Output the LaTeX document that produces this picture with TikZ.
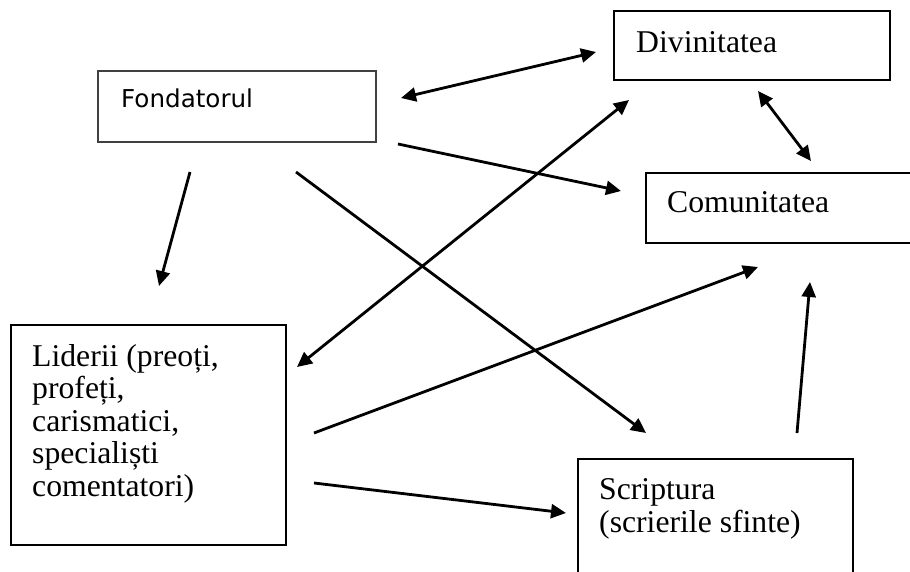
\documentclass[tikz,border=0pt]{standalone}
\usepackage{fontspec}
\setmainfont{Liberation Serif}
\newfontfamily\fondfont{DejaVu Sans}
\usetikzlibrary{arrows.meta}
\tikzset{
  box/.style={draw, line width=1.8pt},
  lbl/.style={inner sep=0pt, font=\fontsize{31.7}{32.5}\selectfont},
  link/.style={line width=2.8pt, -{Triangle[length=15pt,width=14pt]}},
  duplex/.style={line width=2.8pt, {Triangle[length=15pt,width=14pt]}-{Triangle[length=15pt,width=14pt]}}
}
\begin{document}
\begin{tikzpicture}[x=1pt, y=-1pt]
\useasboundingbox (0,0) rectangle (910,572);

% Draw the boxes and insert the texts
\draw[box, draw=black!75, line width=2.2pt] (98,71) rectangle (376,142);
\node[anchor=base west, inner sep=0pt, font=\fondfont\fontsize{24.6}{28}\selectfont] (fond) at (121,108) {Fondatorul};
\draw[box] (614,11) rectangle (890,80);
\node[lbl, anchor=base west] (div) at (636,53) {Divinitatea};
\draw[box] (646,173) rectangle (916,243);
\node[lbl, anchor=base west] (com) at (667,213) {Comunitatea};
\draw[box] (11,325) rectangle (286,545);
\node[lbl, anchor=north west, align=left] (lid) at (32,344) {Liderii (preoți,\\profeți,\\carismatici,\\specialiști\\comentatori)};
\draw[box] (578,459) rectangle (853,580);
\node[lbl, anchor=north west, align=left] (scr) at (599,478.6) {Scriptura\\(scrierile sfinte)};

% Arrow ends
\coordinate (fond-div) at (401,98);
\coordinate (div-fond) at (596,52);
\coordinate (fond-com) at (398,144);
\coordinate (com-fond) at (621,191);
\coordinate (fond-lid) at (190,172);
\coordinate (lid-fond) at (159,286);
\coordinate (fond-scr) at (296,172);
\coordinate (scr-fond) at (646,433);
\coordinate (lid-div) at (297,367);
\coordinate (div-lid) at (629,100);
\coordinate (lid-com) at (314,433);
\coordinate (com-lid) at (758,267);
\coordinate (lid-scr) at (314,483);
\coordinate (scr-lid) at (566,513);
\coordinate (scr-com) at (797,433);
\coordinate (com-scr) at (810,282);
\coordinate (div-com) at (758,91);
\coordinate (com-div) at (811,161);

% Connectors
\draw[duplex] (fond-div) -- (div-fond);
\draw[link] (fond-com) -- (com-fond);
\draw[link] (fond-lid) -- (lid-fond);
\draw[link] (fond-scr) -- (scr-fond);
\draw[duplex] (lid-div) -- (div-lid);
\draw[link] (lid-com) -- (com-lid);
\draw[link] (lid-scr) -- (scr-lid);
\draw[link] (scr-com) -- (com-scr);
\draw[duplex] (div-com) -- (com-div);
\end{tikzpicture}
\end{document}
